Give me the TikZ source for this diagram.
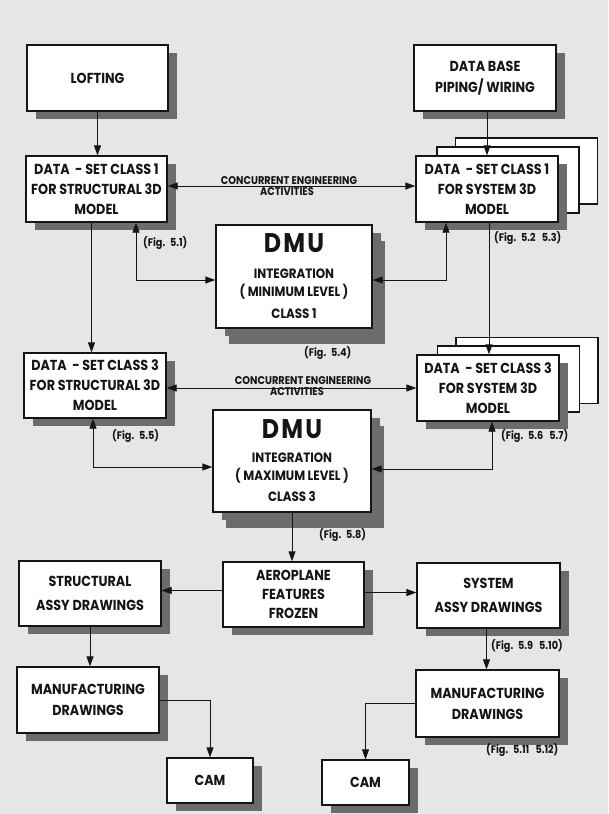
\documentclass[tikz,border=0pt]{standalone}
\usepackage{fontspec}
\newfontfamily\gothic{Poppins}[FakeStretch=0.88]
\usepackage{tikz}
\usetikzlibrary{arrows.meta,calc,shadows}
\definecolor{bgc}{HTML}{E6E6E6}
\definecolor{shd}{HTML}{6C6C6C}
\definecolor{ink}{HTML}{151515}
\newcommand\boxf[1]{\gothic\bfseries\fontsize{14.5}{#1}\selectfont}

\begin{document}
\begin{tikzpicture}[x=1pt,y=-1pt,text=ink,
  bx/.style={draw=ink,line width=1.3pt,fill=white,inner sep=0pt,align=center,font=\boxf{20},
    drop shadow={shadow xshift=9pt,shadow yshift=-8pt,fill=shd,opacity=1}},
  bigbx/.style={bx,drop shadow={shadow xshift=13pt,shadow yshift=-16pt,fill=shd,opacity=1}},
  pg/.style={draw=ink,line width=1.3pt,fill=white,inner sep=0pt,minimum width=142pt,minimum height=66pt},
  ar/.style={-{Triangle[length=10pt,width=7pt]},draw=ink,line width=0.8pt},
  dar/.style={{Triangle[length=10pt,width=7pt]}-{Triangle[length=10pt,width=7pt]},draw=ink,line width=0.8pt},
  fig/.style={anchor=west,inner sep=0pt,font=\gothic\bfseries\fontsize{11}{12}\selectfont},
  cel/.style={inner sep=0pt,font=\gothic\bfseries\fontsize{11.2}{12}\selectfont}]

\fill[bgc] (0,0) rectangle (608,814);
\useasboundingbox (0,0) rectangle (608,814);

% ---------- sources ----------
\node[bx,minimum width=141pt,minimum height=66pt] (loft) at (97.5,78) {LOFTING};
\node[bx,minimum width=142pt,minimum height=66pt,font=\boxf{21}] (db) at (485,78) {DATA BASE\\PIPING/ WIRING};

% ---------- class 1 data-sets ----------
\node[bx,minimum width=141pt,minimum height=66pt] (ds1a) at (96.5,189)
  {DATA~ - SET CLASS 1\\FOR STRUCTURAL 3D\\MODEL};
\node[pg] (ds1p3) at (526.5,171) {};
\node[pg] (ds1p2) at (508,180) {};
\node[bx,minimum width=142pt,minimum height=66pt] (ds1s) at (487,189)
  {DATA~ - SET CLASS 1\\FOR SYSTEM 3D\\MODEL};

\draw[ar] (loft.south) -- (loft.south |- ds1a.north);
\draw[ar] (ds1s.north |- db.south) -- (ds1s.north);
\draw[dar] ([yshift=3pt]ds1a.east) -- ([yshift=3pt]ds1a.east -| ds1s.west);
\node[cel] (ce1) at (289,181) {CONCURRENT ENGINEERING};
\node[cel] (ac1) at (287,192) {ACTIVITIES};

% ---------- DMU minimum level ----------
\node[bigbx,minimum width=156pt,minimum height=103pt,font=\gothic\bfseries\fontsize{13.5}{18}\selectfont] (dmu1) at (294,276.5)
  {{\fontsize{27}{27}\selectfont\addfontfeature{LetterSpace=8}DMU}\\[8pt]
   INTEGRATION\\( MINIMUM LEVEL )\\[4pt]CLASS 1};
\coordinate (c1a) at (136,280);
\coordinate (c1s) at (446,280);
\draw[dar] (ds1a.south -| c1a) -- (c1a) -- (c1a -| dmu1.west);
\draw[dar] (ds1s.south -| c1s) -- (c1s) -- (c1s -| dmu1.east);
\node[fig] (f51) at (143,243) {(Fig.~ 5.1)};
\node[fig] (f52) at (494,238) {(Fig.~ 5.2~~ 5.3)};
\node[fig] (f54) at (304,353) {(Fig.~ 5.4)};

% ---------- class 3 data-sets ----------
\node[bx,minimum width=142pt,minimum height=65pt] (ds3a) at (95,385.5)
  {DATA~ - SET CLASS 3\\FOR STRUCTURAL 3D\\MODEL};
\node[pg] (ds3p3) at (527,370.5) {};
\node[pg] (ds3p2) at (508.5,379) {};
\node[bx,minimum width=142pt,minimum height=66pt] (ds3s) at (488,388)
  {DATA~ - SET CLASS 3\\FOR SYSTEM 3D\\MODEL};

\draw[ar] ([xshift=-5pt]ds1a.south) -- ([xshift=-5pt]ds1a.south |- ds3a.north);
\draw[ar] ([xshift=2pt]ds1s.south) -- ([xshift=2pt]ds1s.south |- ds3s.north);
\draw[dar] (ds3s.west -| ds3a.east) -- (ds3s.west);
\node[cel] (ce2) at (303,381) {CONCURRENT ENGINEERING};
\node[cel] (ac2) at (297,392) {ACTIVITIES};

% ---------- DMU maximum level ----------
\node[bigbx,minimum width=158pt,minimum height=102pt,font=\gothic\bfseries\fontsize{13.5}{18}\selectfont] (dmu2) at (292,461)
  {{\fontsize{27}{27}\selectfont\addfontfeature{LetterSpace=8}DMU}\\[6pt]
   INTEGRATION\\( MAXIMUM LEVEL )\\[3pt]CLASS 3};
\coordinate (c3a) at (93,467);
\coordinate (c3s) at (492,469);
\draw[dar] (ds3a.south -| c3a) -- (c3a) -- (c3a -| dmu2.west);
\draw[dar] (ds3s.south -| c3s) -- (c3s) -- (c3s -| dmu2.east);
\node[fig] (f55) at (112,436) {(Fig.~ 5.5)};
\node[fig] (f56) at (501,436) {(Fig.~ 5.6~~ 5.7)};
\node[fig] (f58) at (319,535) {(Fig.~ 5.8)};

% ---------- frozen features and drawings ----------
\node[bx,minimum width=141pt,minimum height=65pt,font=\boxf{19}] (aero) at (293.5,594.5)
  {AEROPLANE\\FEATURES\\FROZEN};
\node[bx,minimum width=142pt,minimum height=65pt,font=\boxf{24}] (sa) at (90,593.5)
  {STRUCTURAL\\ASSY DRAWINGS};
\node[bx,minimum width=143pt,minimum height=65pt,font=\boxf{24}] (syst) at (488.5,595.5)
  {SYSTEM\\ASSY DRAWINGS};
\node[bx,minimum width=142pt,minimum height=66pt,font=\boxf{21}] (mfa) at (88,700)
  {MANUFACTURING\\DRAWINGS};
\node[bx,minimum width=143pt,minimum height=67pt,font=\boxf{21}] (mfs) at (487.5,703.5)
  {MANUFACTURING\\DRAWINGS};
\node[bx,minimum width=86pt,minimum height=45pt] (cama) at (210,780.5) {CAM};
\node[bx,minimum width=87pt,minimum height=45pt] (cams) at (365.5,782.5) {CAM};

\draw[ar] (dmu2.south) -- (dmu2.south |- aero.north);
\draw[ar] ([yshift=4pt]aero.west) -- ([yshift=4pt]aero.west -| sa.east);
\draw[ar] ([yshift=2pt]aero.east) -- ([yshift=2pt]aero.east -| syst.west);
\draw[ar] (sa.south) -- (sa.south |- mfa.north);
\draw[ar] ([xshift=-2pt]syst.south) -- ([xshift=-2pt]syst.south |- mfs.north);
\draw[ar] (mfa.east) -| (cama.north);
\draw[ar] (mfs.west) -| (cams.north);
\node[fig] (f59) at (491,646) {(Fig.~ 5.9~~ 5.10)};
\node[fig] (f511) at (486,750) {(Fig.~ 5.11~~ 5.12)};
\end{tikzpicture}
\end{document}
